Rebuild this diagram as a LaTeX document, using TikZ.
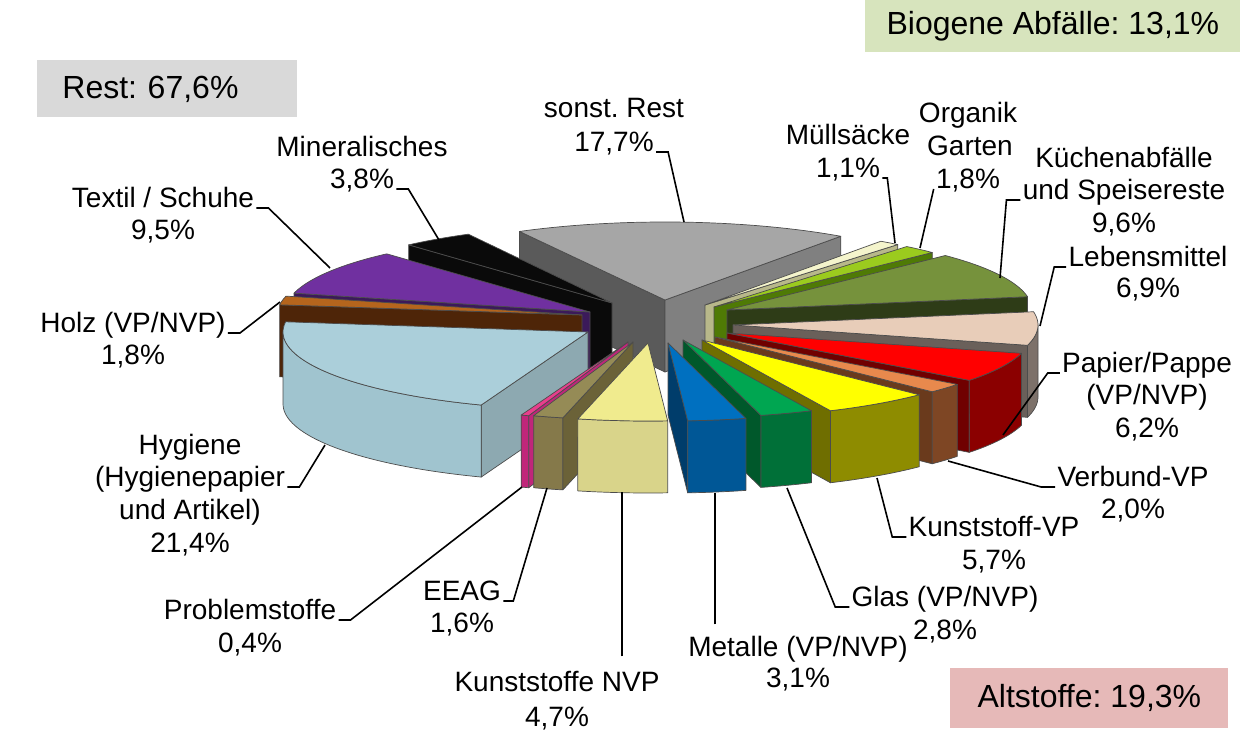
\documentclass[tikz,border=0pt]{standalone}
\usepackage{fontspec}
\setmainfont{Liberation Sans}
\usepackage{tikz}
\usetikzlibrary{calc}
\usetikzlibrary{positioning}
\frenchspacing

\definecolor{boxgrey}{HTML}{D9D9D9}
\definecolor{boxgreen}{HTML}{D7E4BD}
\definecolor{boxrose}{HTML}{E6B9B8}
\definecolor{resttop}{HTML}{A6A6A6}
\definecolor{restdark}{HTML}{5A5A5A}
\definecolor{restside}{HTML}{808080}
\definecolor{minblack}{HTML}{0A0A0A}
\definecolor{textiltop}{HTML}{7030A0}
\definecolor{textilside}{HTML}{3B1A5A}
\definecolor{holztop}{HTML}{B5651D}
\definecolor{holzside}{HTML}{4E2508}
\definecolor{hygtop}{HTML}{ABCFDA}
\definecolor{hygrim}{HTML}{A0C4CF}
\definecolor{hygside}{HTML}{8DA9B1}
\definecolor{probtop}{HTML}{E83E8C}
\definecolor{probside}{HTML}{C0267A}
\definecolor{eeagtop}{HTML}{958B56}
\definecolor{eeagrim}{HTML}{85794A}
\definecolor{eeagside}{HTML}{6B6238}
\definecolor{knvptop}{HTML}{F0EB8E}
\definecolor{knvprim}{HTML}{D9D48A}
\definecolor{muelltop}{HTML}{F4F4CC}
\definecolor{muellside}{HTML}{B8B88A}
\definecolor{orgtop}{HTML}{9BCB1E}
\definecolor{orgside}{HTML}{4F7A05}
\definecolor{kuechtop}{HTML}{76923C}
\definecolor{kuechside}{HTML}{2E3C17}
\definecolor{lebtop}{HTML}{E8CDB9}
\definecolor{lebrim}{HTML}{7D716A}
\definecolor{lebside}{HTML}{6A605A}
\definecolor{paptop}{HTML}{FF0000}
\definecolor{paprim}{HTML}{8B0000}
\definecolor{papside}{HTML}{700000}
\definecolor{verbtop}{HTML}{E8894D}
\definecolor{verbrim}{HTML}{7E4624}
\definecolor{verbside}{HTML}{6A3A1C}
\definecolor{kvptop}{HTML}{FFFF00}
\definecolor{kvprim}{HTML}{8E8C00}
\definecolor{kvpside}{HTML}{6F6E00}
\definecolor{glastop}{HTML}{00A651}
\definecolor{glasrim}{HTML}{007038}
\definecolor{glasside}{HTML}{00582B}
\definecolor{mettop}{HTML}{0070C0}
\definecolor{metrim}{HTML}{005796}
\definecolor{metside}{HTML}{003D6B}

% pie geometry (pixels)
\newcommand{\pieRx}{305}
\newcommand{\pieRy}{78}
\newcommand{\pieH}{72}

% top face: start, end, apex x, apex y, colour
\newcommand{\topface}[5]{%
  \filldraw[slicefill, fill=#5] (#3,#4) -- plot[domain=#1:#2, samples=40] ({#3+\pieRx*cos(\x)},{#4-\pieRy*sin(\x)}) -- cycle;
}
% outer curved face
\newcommand{\rimface}[5]{%
  \filldraw[slicefill, fill=#5] plot[domain=#1:#2, samples=40] ({#3+\pieRx*cos(\x)},{#4-\pieRy*sin(\x)})
    -- plot[domain=#2:#1, samples=40] ({#3+\pieRx*cos(\x)},{#4-\pieRy*sin(\x)+\pieH}) -- cycle;
}
% radial cut face: angle, apex x, apex y, colour
\newcommand{\cutface}[4]{%
  \filldraw[slicefill, fill=#4] (#2,#3) -- ({#2+\pieRx*cos(#1)},{#3-\pieRy*sin(#1)}) -- ++(0,\pieH) -- (#2,{#3+\pieH}) -- cycle;
}

\tikzset{slicefill/.style={draw=black!70, line width=0.35pt, line join=round}}
\tikzset{lbl/.style={font=\fontsize{14}{16}\selectfont, inner sep=1pt, anchor=base}}
\tikzset{leader/.style={black, line width=0.8pt}}
\tikzset{sumbox/.style={font=\fontsize{16}{18}\selectfont, anchor=north west, inner sep=0pt}}

\begin{document}
\begin{tikzpicture}[x=0.5pt, y=-0.5pt]
\useasboundingbox (0,0) rectangle (1249,731);

% sonst. Rest
\cutface{118.5}{665}{300}{restdark}
\cutface{54.8}{665}{300}{restside}
\topface{118.5}{54.8}{665}{300}{resttop}
% Mineralisches
\cutface{131.8}{612}{303}{minblack}
\topface{131.8}{118.1}{612}{303}{minblack}
% Textil / Schuhe
\cutface{166}{590}{312}{textilside}
\topface{166}{131.8}{590}{312}{textiltop}
% Holz
\cutface{172.5}{582}{315}{holzside}
\topface{172.5}{166}{582}{315}{holztop}
% Hygiene
\cutface{-110.5}{588}{332}{hygside}
\rimface{-110.5}{-180}{588}{332}{hygrim}
\topface{-110.5}{-187.5}{588}{332}{hygtop}
% Problemstoffe
\cutface{-109}{628}{342}{probside}
\rimface{-109}{-110.5}{628}{342}{probside}
\topface{-109}{-110.5}{628}{342}{probtop}
% EEAG
\cutface{-103.3}{633}{342}{eeagside}
\rimface{-103.3}{-109}{633}{342}{eeagrim}
\topface{-103.3}{-109}{633}{342}{eeagtop}
% Kunststoffe NVP
\rimface{-86.3}{-103.3}{648}{343}{knvprim}
\topface{-86.3}{-103.3}{648}{343}{knvptop}
% Muellsaecke
\cutface{50.8}{705}{305}{muellside}
\topface{54.8}{50.8}{705}{305}{muelltop}
% Organik Garten
\cutface{44.3}{714}{307}{orgside}
\topface{50.8}{44.3}{714}{307}{orgtop}
% Kuechenabfaelle
\cutface{9.8}{727}{310}{kuechside}
\topface{44.3}{9.8}{727}{310}{kuechtop}
% Lebensmittel
\cutface{-15.1}{733}{325}{lebside}
\rimface{0}{-15.1}{733}{325}{lebrim}
\topface{9.8}{-15.1}{733}{325}{lebtop}
% Papier/Pappe
\cutface{-37.4}{727}{333}{papside}
\rimface{-15.1}{-37.4}{727}{333}{paprim}
\topface{-15.1}{-37.4}{727}{333}{paptop}
% Verbund-VP
\cutface{-44.6}{715}{337}{verbside}
\rimface{-37.4}{-44.6}{715}{337}{verbrim}
\topface{-37.4}{-44.6}{715}{337}{verbtop}
% Kunststoff-VP
\cutface{-65.1}{702}{340}{kvpside}
\rimface{-44.6}{-65.1}{702}{340}{kvprim}
\topface{-44.6}{-65.1}{702}{340}{kvptop}
% Glas
\cutface{-75.2}{683}{340}{glasside}
\rimface{-65.1}{-75.2}{683}{340}{glasrim}
\topface{-65.1}{-75.2}{683}{340}{glastop}
% Metalle
\cutface{-86.3}{668}{343}{metside}
\rimface{-75.2}{-86.3}{668}{343}{metrim}
\topface{-75.2}{-86.3}{668}{343}{mettop}

% group boxes
\node[sumbox, fill=boxgrey, text width=105pt, inner xsep=12.5pt, minimum height=28.5pt, align=left] (restbox) at (37,60) {Rest: 67,6\%};
\node[sumbox, fill=boxgreen, minimum width=187.5pt, minimum height=26pt] (biobox) at (865,0) {Biogene Abfälle: 13,1\%};
\node[sumbox, fill=boxrose, minimum width=139pt, minimum height=30pt] (altbox) at (950,668) {Altstoffe: 19,3\%};

% leader targets on the slices
\coordinate (cRest) at (684,222);
\coordinate (cMineral) at (439,240);
\coordinate (cMuell) at (895,243);
\coordinate (cOrganik) at (920,248);
\coordinate (cKuechen) at (1000,278);
\coordinate (cLebens) at (1040,326);
\coordinate (cPapier) at (1003,435);
\coordinate (cVerbund) at (948,461);
\coordinate (cKvp) at (877,478);
\coordinate (cGlas) at (787,488);
\coordinate (cMetalle) at (715,493);
\coordinate (cKnvp) at (622,492);
\coordinate (cEeag) at (547,488);
\coordinate (cProblem) at (522,487);
\coordinate (cHygiene) at (325,445);
\coordinate (cHolz) at (280,302);
\coordinate (cTextil) at (330,268);

% labels
\node[lbl] (rest1) at (614,118) {sonst. Rest};
\node[lbl] (rest2) at (614,152) {17,7\%};
\node[lbl] (mineral1) at (362,157) {Mineralisches};
\node[lbl] (mineral2) at (362,189) {3,8\%};
\node[lbl] (muell1) at (848,145) {Müllsäcke};
\node[lbl] (muell2) at (848,178) {1,1\%};
\node[lbl] (organik1) at (968,123) {Organik};
\node[lbl] (organik2) at (970,156) {Garten};
\node[lbl] (organik3) at (968,189) {1,8\%};
\node[lbl] (kuechen1) at (1124,168) {Küchenabfälle};
\node[lbl] (kuechen2) at (1124,200) {und Speisereste};
\node[lbl] (kuechen3) at (1124,233) {9,6\%};
\node[lbl] (lebens1) at (1148,267) {Lebensmittel};
\node[lbl] (lebens2) at (1148,298) {6,9\%};
\node[lbl] (papier1) at (1147,373) {Papier/Pappe};
\node[lbl] (papier2) at (1147,405) {(VP/NVP)};
\node[lbl] (papier3) at (1147,438) {6,2\%};
\node[lbl] (verbund1) at (1133,487) {Verbund-VP};
\node[lbl] (verbund2) at (1133,519) {2,0\%};
\node[lbl] (kvp1) at (994,537) {Kunststoff-VP};
\node[lbl] (kvp2) at (994,570) {5,7\%};
\node[lbl] (glas1) at (945,607) {Glas (VP/NVP)};
\node[lbl] (glas2) at (945,640) {2,8\%};
\node[lbl] (metalle1) at (798,657) {Metalle (VP/NVP)};
\node[lbl] (metalle2) at (798,688) {3,1\%};
\node[lbl] (knvp1) at (557,692) {Kunststoffe NVP};
\node[lbl] (knvp2) at (557,727) {4,7\%};
\node[lbl] (eeag1) at (462,601) {EEAG};
\node[lbl] (eeag2) at (462,633) {1,6\%};
\node[lbl] (problem1) at (250,620) {Problemstoffe};
\node[lbl] (problem2) at (250,653) {0,4\%};
\node[lbl] (hyg1) at (190,455) {Hygiene};
\node[lbl] (hyg2) at (190,487) {(Hygienepapier};
\node[lbl] (hyg3) at (190,520) {und Artikel)};
\node[lbl] (hyg4) at (190,553) {21,4\%};
\node[lbl] (holz1) at (133,333) {Holz (VP/NVP)};
\node[lbl] (holz2) at (133,365) {1,8\%};
\node[lbl] (textil1) at (163,208) {Textil / Schuhe};
\node[lbl] (textil2) at (163,240) {9,5\%};

% leader lines
\draw[leader] (rest2.base east) -- ++(12,0) -- (cRest);
\draw[leader] (mineral2.base east) -- ++(12,0) -- (cMineral);
\draw[leader] (muell2.base east) -- ++(5,0) -- (cMuell);
\draw[leader] (organik3.base west) -- (cOrganik);
\draw[leader] (kuechen2.base west) -- ++(-14,0) -- (cKuechen);
\draw[leader] (lebens1.base west) -- ++(-12,0) -- (cLebens);
\draw[leader] (papier1.base west) -- ++(-12,0) -- (cPapier);
\draw[leader] (verbund1.base west) -- ++(-14,0) -- (cVerbund);
\draw[leader] (kvp1.base west) -- ++(-14,0) -- (cKvp);
\draw[leader] (glas1.base west) -- ++(-14,0) -- (cGlas);
\draw[leader] (metalle1.north -| cMetalle) ++(0,-10) -- (cMetalle);
\draw[leader] (knvp1.north -| cKnvp) ++(0,-13) -- (cKnvp);
\draw[leader] (eeag1.base east) -- ++(10,0) -- (cEeag);
\draw[leader] (problem1.base east) -- ++(12,0) -- (cProblem);
\draw[leader] (hyg2.base east) -- ++(12,0) -- (cHygiene);
\draw[leader] (holz1.base east) -- ++(12,0) -- (cHolz);
\draw[leader] (textil1.base east) -- ++(12,0) -- (cTextil);
\end{tikzpicture}
\end{document}
